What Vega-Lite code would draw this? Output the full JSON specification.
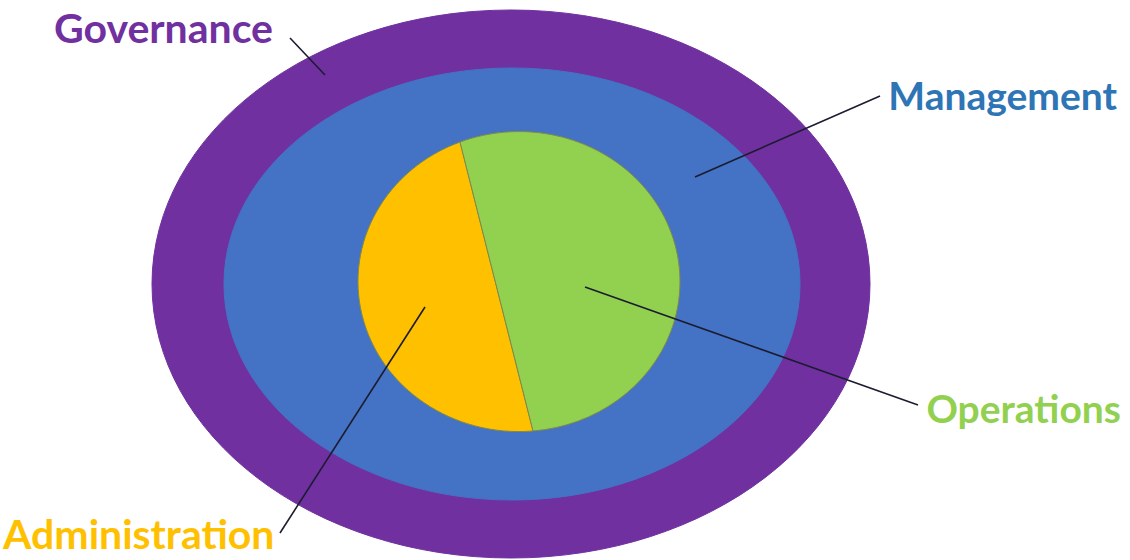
{
  "$schema": "https://vega.github.io/schema/vega-lite/v6.json",
  "width": 1130,
  "height": 560,
  "autosize": "none",
  "padding": 0,
  "background": "white",
  "config": {"view": {"stroke": null}},
  "resolve": {"scale": {"color": "independent", "fill": "independent", "stroke": "independent", "shape": "independent"}},
  "layer": [
    {
      "data": {"values": [
        {"part": "Governance", "x": 511, "y": 284},
        {"part": "Management", "x": 512, "y": 284},
        {"part": "Administration", "x": 516, "y": 282},
        {"part": "Operations", "x": 516, "y": 282}
      ]},
      "mark": {"type": "point", "filled": true, "opacity": 1, "size": 4, "strokeWidth": 1},
      "encoding": {
        "x": {"field": "x", "type": "quantitative", "scale": {"domain": [0, 1130], "nice": false, "zero": false}, "axis": null},
        "y": {"field": "y", "type": "quantitative", "scale": {"domain": [0, 560], "reverse": true, "nice": false, "zero": false}, "axis": null},
        "shape": {"field": "part", "type": "nominal", "legend": null, "scale": {
          "domain": ["Governance", "Management", "Administration", "Operations"],
          "range": [
            "M -359 0 A 359 274 0 1 1 359 0 A 359 274 0 1 1 -359 0 Z",
            "M -288 0 A 288 216 0 1 1 288 0 A 288 216 0 1 1 -288 0 Z",
            "M -56 -140 A 161 150 0 0 0 17 149 Z",
            "M -56 -140 A 161 150 0 1 1 17 149 Z"
          ]}},
        "fill": {"field": "part", "type": "nominal", "legend": null, "scale": {
          "domain": ["Governance", "Management", "Administration", "Operations"],
          "range": ["#7030A0", "#4472C4", "#FFC000", "#92D050"]}},
        "stroke": {"field": "part", "type": "nominal", "legend": null, "scale": {
          "domain": ["Governance", "Management", "Administration", "Operations"],
          "range": ["#7030A0", "#4472C4", "#7f8a4a", "#7f8a4a"]}},
        "order": {"field": "x", "type": "quantitative"}
      }
    },
    {
      "data": {"values": [
        {"label": "Governance", "x1": 290, "y1": 38, "x2": 325, "y2": 75},
        {"label": "Management", "x1": 880, "y1": 96, "x2": 695, "y2": 177},
        {"label": "Operations", "x1": 918, "y1": 405, "x2": 585, "y2": 287},
        {"label": "Administration", "x1": 280, "y1": 533, "x2": 425, "y2": 307}
      ]},
      "mark": {"type": "rule", "color": "#1c1c30", "strokeWidth": 1.6},
      "encoding": {
        "x": {"field": "x1", "type": "quantitative"},
        "y": {"field": "y1", "type": "quantitative"},
        "x2": {"field": "x2"},
        "y2": {"field": "y2"}
      }
    },
    {
      "data": {"values": [
        {"label": "Governance", "x": 54, "y": 43},
        {"label": "Administration", "x": 3, "y": 549}
      ]},
      "mark": {"type": "text", "align": "left", "baseline": "alphabetic", "font": "Lato", "fontWeight": "bold", "fontSize": 41},
      "encoding": {
        "x": {"field": "x", "type": "quantitative"},
        "y": {"field": "y", "type": "quantitative"},
        "text": {"field": "label"},
        "color": {"field": "label", "type": "nominal", "legend": null, "scale": {
          "domain": ["Governance", "Administration"],
          "range": ["#7030A0", "#FFC000"]}}
      }
    },
    {
      "data": {"values": [
        {"label": "Management", "x": 1117, "y": 110},
        {"label": "Operations", "x": 1121, "y": 423}
      ]},
      "mark": {"type": "text", "align": "right", "baseline": "alphabetic", "font": "Lato", "fontWeight": "bold", "fontSize": 39},
      "encoding": {
        "x": {"field": "x", "type": "quantitative"},
        "y": {"field": "y", "type": "quantitative"},
        "text": {"field": "label"},
        "color": {"field": "label", "type": "nominal", "legend": null, "scale": {
          "domain": ["Management", "Operations"],
          "range": ["#2E75B6", "#92D050"]}}
      }
    }
  ]
}
